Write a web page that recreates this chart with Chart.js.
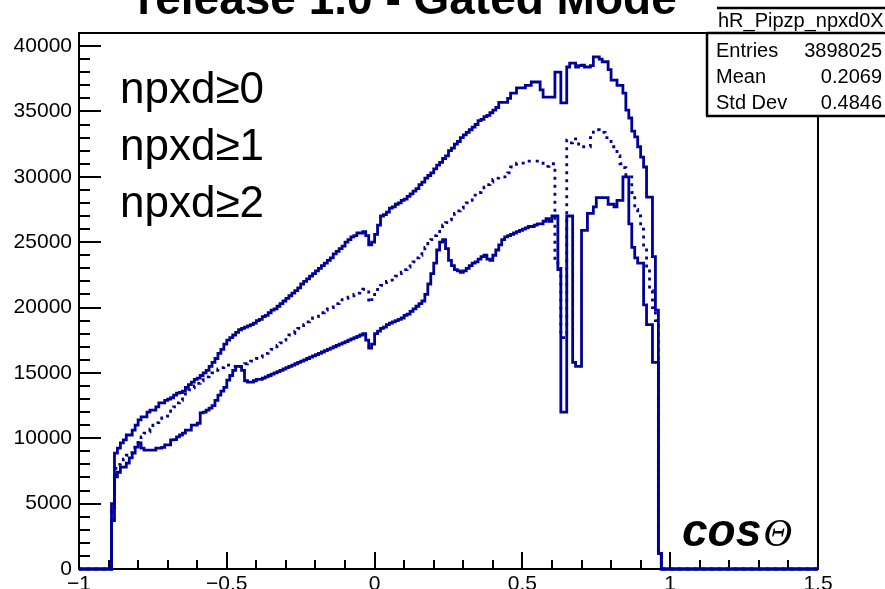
<!DOCTYPE html>
<html>
<head>
<meta charset="utf-8">
<script src="https://cdn.jsdelivr.net/npm/chart.js@4.4.1/dist/chart.umd.min.js"></script>
<style>
  html, body { margin: 0; padding: 0; background: #fff; }
  #wrap { position: relative; width: 885px; height: 589px; overflow: hidden; }
</style>
</head>
<body>
<div id="wrap"><canvas id="myChart" width="885" height="589"></canvas></div>
<script>
// cos(theta) histograms, 0.01 wide bins, first filled bin starts at -0.89
const firstBinLow = -0.89;
const binWidth = 0.01;

// npxd >= 0 (upper solid)
const npxd0 = [
  5000, 8870, 9250, 9640, 9870, 10250, 10250, 10630, 11000, 11400,
  11630, 11630, 12000, 12160, 12160, 12400, 12700, 12700, 12900, 13000,
  13100, 13300, 13450, 13500, 13600, 13900, 14100, 14300, 14500, 14600,
  14800, 15000, 15200, 15500, 15800, 16100, 16500, 16800, 17200, 17500,
  17700, 17900, 18100, 18300, 18400, 18500, 18600, 18700, 18800, 19000,
  19100, 19300, 19400, 19600, 19800, 19900, 20100, 20300, 20500, 20700,
  20900, 21100, 21300, 21500, 21800, 22000, 22200, 22400, 22600, 22800,
  23000, 23200, 23400, 23600, 23800, 24100, 24300, 24500, 24700, 25000,
  25200, 25400, 25500, 25700, 25700, 25800, 25500, 24800, 25000, 25600,
  26300, 27000, 27100, 27300, 27600, 27700, 27900, 28000, 28200, 28300,
  28500, 28700, 28900, 29100, 29400, 29600, 29900, 30100, 30300, 30600,
  30900, 31100, 31400, 31600, 32000, 32200, 32500, 32700, 33000, 33200,
  33400, 33600, 33800, 34000, 34300, 34400, 34600, 34700, 34900, 35100,
  35300, 35700, 35700, 35700, 36000, 36400, 36400, 36800, 36800, 36800,
  37000, 37000, 37250, 37250, 37250, 36650, 36100, 36100, 36100, 36100,
  38000, 38000, 35650, 35650, 38400, 38700, 38700, 38400, 38500, 38550,
  38400, 38400, 38500, 39170, 39170, 39000, 38800, 38800, 38200, 37400,
  37400, 37000, 37000, 36400, 35100, 34500, 33500, 33050, 32300, 31500,
  30750, 28450, 28450, 23900, 19800, 1200
];

// npxd >= 1 (dotted)
const npxd1 = [
  4400, 7700, 8000, 8200, 8400, 8700, 8900, 9300, 9500, 9870,
  10100, 10400, 10500, 10700, 11000, 11200, 11400, 11550, 11700, 11900,
  12100, 12400, 12700, 12900, 13150, 13400, 13700, 13850, 14000, 14200,
  14400, 14600, 14700, 14900, 15000, 15200, 15300, 15400, 15500, 15600,
  15600, 15500, 15400, 15500, 15600, 15700, 15800, 15900, 16000, 16100,
  16200, 16300, 16500, 16600, 16800, 17000, 17100, 17300, 17500, 17700,
  17900, 18000, 18200, 18400, 18500, 18700, 18900, 19000, 19200, 19300,
  19500, 19600, 19800, 19900, 20000, 20200, 20300, 20400, 20600, 20700,
  20800, 20900, 21000, 21100, 21300, 21400, 21200, 20400, 20600, 21200,
  21500, 21700, 21900, 22000, 22100, 22300, 22400, 22600, 22700, 22900,
  23100, 23300, 23500, 23800, 24000, 24300, 24600, 24900, 25200, 25500,
  25800, 26000, 26300, 26500, 26700, 27000, 27200, 27400, 27600, 27800,
  28000, 28200, 28400, 28600, 28800, 29000, 29200, 29400, 29600, 29800,
  29900, 30000, 30000, 30000, 30300, 30750, 30750, 31050, 31050, 31050,
  31200, 31200, 31200, 31200, 31200, 31200, 30800, 30800, 31000, 31000,
  23600, 23000, 17700, 17700, 32800, 32600, 32900, 32900, 32300, 32300,
  32300, 32300, 33000, 33600, 33600, 33500, 33400, 33000, 33000, 32300,
  32300, 31600, 31000, 30700, 30000, 30000, 28800, 27500, 27000, 26000,
  24600, 23000, 21300, 20000, 19000, 1200
];

// npxd >= 2 (lower solid)
const npxd2 = [
  3700, 7040, 7400, 7800, 7800, 8100, 8500, 8870, 9330, 9640,
  9250, 9100, 9100, 9100, 9100, 9250, 9250, 9300, 9490, 9490,
  9870, 9900, 10100, 10250, 10400, 10630, 10630, 11000, 11000, 11150,
  11950, 12000, 12160, 12300, 12500, 12900, 13300, 13600, 13900, 14450,
  14800, 15200, 15500, 15500, 15200, 14400, 14300, 14300, 14400, 14500,
  14500, 14600, 14700, 14800, 14900, 15000, 15100, 15200, 15300, 15400,
  15500, 15600, 15700, 15800, 15900, 16000, 16100, 16200, 16300, 16400,
  16500, 16600, 16700, 16800, 16900, 17000, 17100, 17200, 17300, 17400,
  17500, 17600, 17700, 17800, 17900, 18000, 17500, 16900, 17200, 18000,
  18200, 18400, 18500, 18700, 18800, 18900, 19000, 19100, 19200, 19400,
  19500, 19700, 19900, 20100, 20300, 20500, 21000, 21800, 22600, 23400,
  24400, 25000, 25200, 24500, 23600, 23200, 22900, 22800, 22700, 22800,
  23000, 23200, 23400, 23500, 23700, 23900, 24000, 23700, 23600, 24000,
  24400, 24800, 25200, 25400, 25500, 25600, 25700, 25800, 25900, 26000,
  26100, 26200, 26200, 26300, 26400, 26400, 26600, 26800, 26600, 27000,
  27000, 22900, 12000, 12000, 27000, 27000, 15800, 15500, 15500, 25900,
  25900, 27200, 27200, 27700, 28400, 28400, 28400, 28400, 27900, 27900,
  27700, 28200, 28200, 30000, 30000, 26400, 24600, 23800, 23400, 23400,
  20200, 18700, 18700, 15800, 15800, 1200
];

const seriesLabels = ['npxd\u22650', 'npxd\u22651', 'npxd\u22652'];
const xTickValues = [-1, -0.5, 0, 0.5, 1, 1.5];
const yTickValues = [0, 5000, 10000, 15000, 20000, 25000, 30000, 35000, 40000];
const chartTitle = 'release 1.0 - Gated Mode';
const statsTitle = 'hR_Pipzp_npxd0X';
const statsRows = [['Entries', '3898025'], ['Mean', '0.2069'], ['Std Dev', '0.4846']];

const lineColor = '#00009a';

// turn bin contents into ROOT-like outline points (left edges, stepped)
function toSteps(values) {
  const pts = [{ x: -1, y: 0 }, { x: firstBinLow, y: 0 }];
  values.forEach((v, i) => pts.push({ x: firstBinLow + i * binWidth, y: v }));
  pts.push({ x: firstBinLow + values.length * binWidth, y: 0 });
  pts.push({ x: 1.5, y: 0 });
  return pts;
}

const rootStyle = {
  id: 'rootStyle',
  beforeDatasetsDraw(chart) {
    const { ctx, chartArea: a, scales: { x, y } } = chart;
    ctx.save();
    ctx.strokeStyle = '#000';
    ctx.lineWidth = 2;
    ctx.strokeRect(a.left, a.top, a.right - a.left, a.bottom - a.top);
    ctx.beginPath();
    // inward ticks, ROOT style
    for (let k = 0; k <= 41; k++) {
      const py = Math.round(y.getPixelForValue(k * 1000));
      const len = k % 5 === 0 ? 22 : 11;
      ctx.moveTo(a.left, py);
      ctx.lineTo(a.left + len, py);
    }
    for (let k = -10; k <= 15; k++) {
      const px = Math.round(x.getPixelForValue(k / 10));
      const len = k % 5 === 0 ? 17 : 9;
      ctx.moveTo(px, a.bottom);
      ctx.lineTo(px, a.bottom - len);
    }
    ctx.stroke();
    ctx.restore();
  },
  afterDraw(chart) {
    const { ctx } = chart;
    ctx.save();
    ctx.fillStyle = '#000';

    // title, cut by the top edge like the original
    ctx.font = 'bold 46px "Liberation Sans"';
    ctx.textAlign = 'center';
    ctx.textBaseline = 'alphabetic';
    ctx.fillText(chartTitle, 407, 14);

    // series labels
    ctx.textAlign = 'left';
    ctx.font = '44px "Liberation Sans"';
    const labelY = [103, 160, 217];
    seriesLabels.forEach((t, i) => ctx.fillText(t, 120, labelY[i]));

    // axis label
    ctx.font = 'bold italic 46px "Liberation Sans"';
    ctx.fillText('cos', 682, 546);
    const w = ctx.measureText('cos').width;
    ctx.font = 'italic 40px "Liberation Serif"';
    ctx.fillText('\u0398', 682 + w + 2, 546);

    // stats box
    ctx.fillStyle = '#fff';
    ctx.fillRect(717, 7, 170, 26);
    ctx.fillRect(707, 33, 180, 83);
    ctx.strokeStyle = '#000';
    ctx.lineWidth = 2.5;
    ctx.beginPath();
    ctx.moveTo(717, 8); ctx.lineTo(886, 8);
    ctx.moveTo(707, 33); ctx.lineTo(886, 33);
    ctx.moveTo(707, 32); ctx.lineTo(707, 116);
    ctx.moveTo(706, 116); ctx.lineTo(886, 116);
    ctx.stroke();
    ctx.fillStyle = '#000';
    ctx.font = '20px "Liberation Sans"';
    ctx.textAlign = 'left';
    ctx.fillText(statsTitle, 718, 27);
    const rowY = [57, 83, 109];
    statsRows.forEach((r, i) => {
      ctx.textAlign = 'left';
      ctx.fillText(r[0], 716, rowY[i]);
      ctx.textAlign = 'right';
      ctx.fillText(r[1], 882, rowY[i]);
    });
    ctx.restore();
  }
};

const ds = (data, dashed) => ({
  data: toSteps(data),
  stepped: true,
  borderColor: lineColor,
  borderWidth: 2.8,
  borderDash: dashed ? [3, 5] : [],
  borderCapStyle: 'butt',
  borderJoinStyle: 'miter',
  pointRadius: 0,
  fill: false,
  clip: 4
});

const ctx = document.getElementById('myChart').getContext('2d');
new Chart(ctx, {
  type: 'line',
  data: {
    datasets: [
      { label: seriesLabels[0], ...ds(npxd0, false) },
      { label: seriesLabels[1], ...ds(npxd1, true) },
      { label: seriesLabels[2], ...ds(npxd2, false) }
    ]
  },
  options: {
    responsive: false,
    animation: false,
    events: [],
    layout: { padding: { left: 0, top: 33, right: 67, bottom: 0 } },
    plugins: { legend: { display: false }, tooltip: { enabled: false } },
    scales: {
      x: {
        type: 'linear',
        min: -1,
        max: 1.5,
        afterFit: s => { s.height = 20; },
        afterBuildTicks: s => { s.ticks = xTickValues.map(v => ({ value: v })); },
        grid: { display: false, drawTicks: false },
        border: { display: false },
        ticks: {
          padding: 3,
          autoSkip: false,
          maxRotation: 0,
          color: '#000',
          font: { family: '"Liberation Sans"', size: 21 },
          callback: v => (v < 0 ? '\u2212' + Math.abs(v) : String(v))
        }
      },
      y: {
        type: 'linear',
        min: 0,
        max: 41000,
        afterFit: s => { s.width = 79; },
        afterBuildTicks: s => { s.ticks = yTickValues.map(v => ({ value: v })); },
        grid: { display: false, drawTicks: false },
        border: { display: false },
        ticks: {
          padding: 7,
          color: '#000',
          font: { family: '"Liberation Sans"', size: 21 },
          callback: v => String(v)
        }
      }
    }
  },
  plugins: [rootStyle]
});
</script>
</body>
</html>
